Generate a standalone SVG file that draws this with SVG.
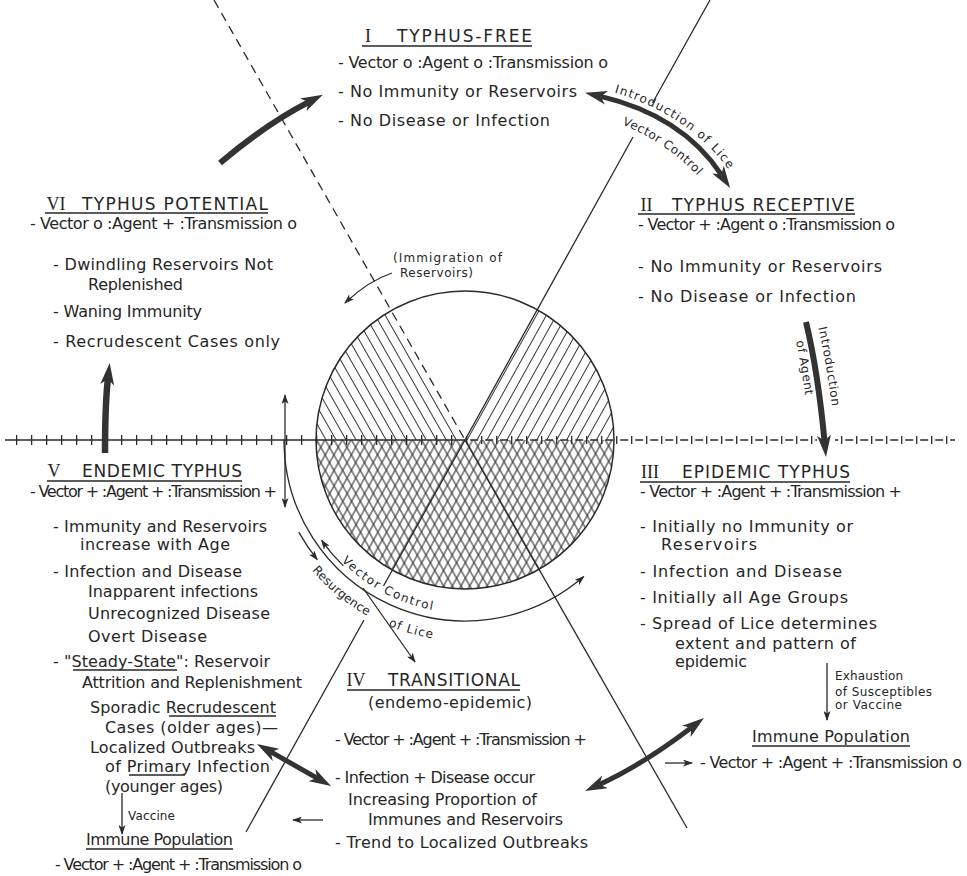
<svg xmlns="http://www.w3.org/2000/svg" width="967" height="876" viewBox="0 0 967 876">
<defs>
<style>
.t{font-family:"DejaVu Sans","Liberation Sans",sans-serif;font-size:16px;fill:#262626}
.h{font-family:"DejaVu Sans","Liberation Sans",sans-serif;font-size:17px;fill:#262626}
.n{font-family:"Liberation Serif","DejaVu Serif",serif;font-size:18px;fill:#262626}
.s{font-family:"DejaVu Sans","Liberation Sans",sans-serif;font-size:12px;fill:#262626}
.ul{stroke:#262626;stroke-width:1.4;fill:none}
.thin{stroke:#2a2a2a;stroke-width:1.3;fill:none}
.fat{stroke:#333;fill:none}
.hatch{stroke:#333;stroke-width:1}
.xh{stroke:#333;stroke-width:1.1}
.ax{stroke:#2a2a2a;fill:none}
</style>
<marker id="hb" viewBox="0 0 22 14" refX="6" refY="7" markerWidth="22" markerHeight="14" markerUnits="userSpaceOnUse" orient="auto-start-reverse"><path d="M0,0 L22,7 L0,14 L6,7 Z" fill="#333"/></marker>
<marker id="sh" viewBox="0 0 10 7" refX="9" refY="3.5" markerWidth="10" markerHeight="7" markerUnits="userSpaceOnUse" orient="auto-start-reverse"><path d="M0,0 L10,3.5 L0,7 L2.5,3.5 Z" fill="#2a2a2a"/></marker>
<pattern id="hl" patternUnits="userSpaceOnUse" width="8.7" height="10" patternTransform="rotate(-29.7)"><line x1="4.35" y1="-1" x2="4.35" y2="11" class="hatch"/></pattern>
<pattern id="hr" patternUnits="userSpaceOnUse" width="8.7" height="10" patternTransform="rotate(29.1)"><line x1="4.35" y1="-1" x2="4.35" y2="11" class="hatch"/></pattern>
<pattern id="cl" patternUnits="userSpaceOnUse" width="7.6" height="10" patternTransform="rotate(-29.7)"><line x1="3.8" y1="-1" x2="3.8" y2="11" class="xh"/></pattern>
<pattern id="cr" patternUnits="userSpaceOnUse" width="7.6" height="10" patternTransform="rotate(29.1)"><line x1="3.8" y1="-1" x2="3.8" y2="11" class="xh"/></pattern>
<path id="p_lice" d="M592,87 Q688,107 736,180"/>
<path id="p_vc1" d="M578,111 Q672,132 718,202"/>
<path id="p_vc2" d="M336.4,555.8 A173,173 0 0 0 459,612.9"/>
<path id="p_res" d="M308.8,566.5 A201,201 0 0 0 447.5,640.2"/>
<path id="p_intro" d="M817,322 Q829,372 837,450"/>
<path id="p_agent" d="M792,324 Q804,372 812,452"/>
</defs>
<rect width="967" height="876" fill="#fff"/>

<g id="hub">
<path d="M465,440 L316,440 A149,149 0 0 1 391,310.7 Z" fill="url(#hl)"/>
<path d="M465,440 L537.6,309.8 A149,149 0 0 1 614,440 Z" fill="url(#hr)"/>
<path d="M316,440 A149,149 0 0 0 614,440 Z" fill="url(#cl)"/>
<path d="M316,440 A149,149 0 0 0 614,440 Z" fill="url(#cr)"/>
<circle cx="465" cy="440" r="149" fill="none" stroke="#2a2a2a" stroke-width="1.5"/>
</g>

<g id="axes">
<line x1="214" y1="0" x2="465" y2="440" class="ax" stroke-width="1.3" stroke-dasharray="9 6"/>
<path d="M710,0 L652.5,103 M633,137 L465,440 L383.5,586 M364,620 L246,832" class="ax" stroke-width="1.3"/>
<path d="M465,440 L687,828" class="ax" stroke-width="1.3"/>
<path d="M5,440 L465,440" class="ax" stroke-width="1.4"/>
<path d="M5,440 L465,440" class="ax" stroke-width="10" stroke-dasharray="1.3 13.7" stroke-dashoffset="4"/>
<path d="M465,440 L817,440" class="ax" stroke-width="1.4" stroke-dasharray="8 7" stroke-dashoffset="9.8"/>
<path d="M465,440 L817,440" class="ax" stroke-width="8" stroke-dasharray="1.3 13.7" stroke-dashoffset="13.95"/>
<path d="M835,440 L955,440" class="ax" stroke-width="1.4" stroke-dasharray="8 7" stroke-dashoffset="4.8"/>
<path d="M835,440 L955,440" class="ax" stroke-width="8" stroke-dasharray="1.3 13.7" stroke-dashoffset="8.95"/>
</g>

<g id="node-I">
<text class="n" x="368" y="42" text-anchor="middle">I</text>
<text class="h" x="397" y="42" textLength="135" lengthAdjust="spacing">TYPHUS-FREE</text>
<line x1="362" y1="46" x2="532" y2="46" class="ul"/>
<text class="t" x="338" y="68" textLength="270" lengthAdjust="spacing">- Vector o :Agent o :Transmission o</text>
<text class="t" x="338" y="97" textLength="239" lengthAdjust="spacing">- No Immunity or Reservoirs</text>
<text class="t" x="338" y="126" textLength="212" lengthAdjust="spacing">- No Disease or Infection</text>
</g>

<g id="node-II">
<text class="n" x="646.5" y="211" text-anchor="middle">II</text>
<text class="h" x="672" y="211" textLength="183" lengthAdjust="spacing">TYPHUS RECEPTIVE</text>
<line x1="638" y1="214" x2="855" y2="214" class="ul"/>
<text class="t" x="638" y="230" textLength="257" lengthAdjust="spacing">- Vector + :Agent o :Transmission o</text>
<text class="t" x="638" y="272" textLength="244" lengthAdjust="spacing">- No Immunity or  Reservoirs</text>
<text class="t" x="638" y="302" textLength="218" lengthAdjust="spacing">- No Disease or Infection</text>
</g>

<g id="node-III">
<text class="n" x="650" y="478" text-anchor="middle">III</text>
<text class="h" x="682" y="478" textLength="168" lengthAdjust="spacing">EPIDEMIC  TYPHUS</text>
<line x1="640" y1="482" x2="850" y2="482" class="ul"/>
<text class="t" x="640" y="497" textLength="262" lengthAdjust="spacing">- Vector + :Agent + :Transmission +</text>
<text class="t" x="640" y="532" textLength="213" lengthAdjust="spacing">- Initially no Immunity or</text>
<text class="t" x="661" y="550" textLength="96" lengthAdjust="spacing">Reservoirs</text>
<text class="t" x="640" y="577" textLength="202" lengthAdjust="spacing">- Infection and Disease</text>
<text class="t" x="640" y="603" textLength="208" lengthAdjust="spacing">- Initially all Age Groups</text>
<text class="t" x="640" y="629" textLength="237" lengthAdjust="spacing">- Spread of Lice determines</text>
<text class="t" x="675" y="649" textLength="181" lengthAdjust="spacing">extent and pattern of</text>
<text class="t" x="675" y="667" textLength="72" lengthAdjust="spacing">epidemic</text>
</g>

<g id="node-III-immune">
<text class="t" x="752" y="742" textLength="158" lengthAdjust="spacing">Immune  Population</text>
<line x1="752" y1="746" x2="910" y2="746" class="ul"/>
<text class="t" x="700" y="768" textLength="262" lengthAdjust="spacing">- Vector + :Agent + :Transmission o</text>
</g>

<g id="node-IV">
<text class="n" x="356" y="686" text-anchor="middle">IV</text>
<text class="h" x="388" y="686" textLength="132" lengthAdjust="spacing">TRANSITIONAL</text>
<line x1="347" y1="690" x2="520" y2="690" class="ul"/>
<text class="t" x="368" y="708" textLength="164" lengthAdjust="spacing">(endemo-epidemic)</text>
<text class="t" x="335" y="745" textLength="252" lengthAdjust="spacing">- Vector + :Agent + :Transmission +</text>
<text class="t" x="335" y="783" textLength="200" lengthAdjust="spacing">- Infection + Disease occur</text>
<text class="t" x="348" y="805" textLength="189" lengthAdjust="spacing">Increasing Proportion of</text>
<text class="t" x="368" y="825" textLength="195" lengthAdjust="spacing">Immunes and Reservoirs</text>
<text class="t" x="335" y="848" textLength="253" lengthAdjust="spacing">- Trend to Localized Outbreaks</text>
</g>

<g id="node-V">
<text class="n" x="54" y="477" text-anchor="middle">V</text>
<text class="h" x="82" y="477" textLength="160" lengthAdjust="spacing">ENDEMIC  TYPHUS</text>
<line x1="47" y1="481" x2="242" y2="481" class="ul"/>
<text class="t" x="30" y="497" textLength="247" lengthAdjust="spacing">- Vector + :Agent + :Transmission +</text>
<text class="t" x="53" y="532" textLength="214" lengthAdjust="spacing">- Immunity and Reservoirs</text>
<text class="t" x="80" y="550" textLength="150" lengthAdjust="spacing">increase with Age</text>
<text class="t" x="53" y="577" textLength="189" lengthAdjust="spacing">- Infection and Disease</text>
<text class="t" x="88" y="597" textLength="170" lengthAdjust="spacing">Inapparent infections</text>
<text class="t" x="88" y="619" textLength="182" lengthAdjust="spacing">Unrecognized Disease</text>
<text class="t" x="88" y="642" textLength="119" lengthAdjust="spacing">Overt Disease</text>
<text class="t" x="53" y="667" textLength="217" lengthAdjust="spacing">- "Steady-State": Reservoir</text>
<line x1="73" y1="670" x2="177" y2="670" class="ul"/>
<text class="t" x="82" y="688" textLength="220" lengthAdjust="spacing">Attrition and Replenishment</text>
<text class="t" x="90" y="713" textLength="186" lengthAdjust="spacing">Sporadic Recrudescent</text>
<line x1="169" y1="716" x2="276" y2="716" class="ul"/>
<text class="t" x="105" y="733" textLength="173" lengthAdjust="spacing">Cases (older ages)—</text>
<text class="t" x="90" y="753" textLength="165" lengthAdjust="spacing">Localized Outbreaks</text>
<text class="t" x="105" y="772" textLength="165" lengthAdjust="spacing">of Primary Infection</text>
<line x1="129" y1="775" x2="185" y2="775" class="ul"/>
<text class="t" x="105" y="792" textLength="118" lengthAdjust="spacing">(younger ages)</text>
</g>

<g id="node-V-immune">
<text class="t" x="86" y="845" textLength="147" lengthAdjust="spacing">Immune Population</text>
<line x1="86" y1="849" x2="233" y2="849" class="ul"/>
<text class="t" x="55" y="870" textLength="247" lengthAdjust="spacing">- Vector + :Agent + :Transmission o</text>
</g>

<g id="node-VI">
<text class="n" x="56" y="210" text-anchor="middle">VI</text>
<text class="h" x="82" y="210" textLength="186" lengthAdjust="spacing">TYPHUS POTENTIAL</text>
<line x1="45" y1="213" x2="268" y2="213" class="ul"/>
<text class="t" x="30" y="229" textLength="267" lengthAdjust="spacing">- Vector o :Agent + :Transmission  o</text>
<text class="t" x="53" y="270" textLength="220" lengthAdjust="spacing">- Dwindling Reservoirs  Not</text>
<text class="t" x="88" y="290" textLength="95" lengthAdjust="spacing">Replenished</text>
<text class="t" x="53" y="317" textLength="149" lengthAdjust="spacing">- Waning Immunity</text>
<text class="t" x="53" y="347" textLength="227" lengthAdjust="spacing">- Recrudescent  Cases only</text>
</g>

<g id="connectors">
<path d="M220,163 Q266,124 308.6,102.1" class="fat" stroke-width="6" marker-end="url(#hb)"/>
<path d="M600.6,96.4 Q682,115.5 721.3,174.6" class="fat" stroke-width="5" marker-start="url(#hb)" marker-end="url(#hb)"/>
<path d="M806,322 Q818,372 824.5,441.1" class="fat" stroke-width="6" marker-end="url(#hb)"/>
<path d="M105,453 Q105,405 107.9,378.9" class="fat" stroke-width="6.5" marker-end="url(#hb)"/>
<path d="M270.9,751.9 L317.1,778.1" class="fat" stroke-width="5" marker-start="url(#hb)" marker-end="url(#hb)"/>
<path d="M599.6,784.4 Q642,765 691.2,727.7" class="fat" stroke-width="5" marker-start="url(#hb)" marker-end="url(#hb)"/>

<path d="M392,273 Q368,281 345,303" class="thin" marker-end="url(#sh)"/>
<path d="M285,395 L285,507" class="thin" marker-start="url(#sh)" marker-end="url(#sh)"/>
<path d="M284,440 A181,181 0 0 0 583.7,576.6" class="thin" marker-end="url(#sh)"/>
<path d="M343.4,565.9 A175,175 0 0 1 321.6,540.4" class="thin" marker-end="url(#sh)"/>
<path d="M298.8,532.1 A190,190 0 0 0 317.3,559.6" class="thin" marker-end="url(#sh)"/>
<path d="M363,588 L415,662" class="thin" marker-end="url(#sh)"/>
<path d="M827,663 L827,720" class="thin" marker-end="url(#sh)"/>
<path d="M665,763 L692,763" class="thin" marker-end="url(#sh)"/>
<path d="M323,820 L293,820" class="thin" marker-end="url(#sh)"/>
<path d="M122,793 L122,834" class="thin" marker-end="url(#sh)"/>

<text class="s" x="393" y="262" textLength="109" lengthAdjust="spacing">(Immigration of</text>
<text class="s" x="400" y="277" textLength="73" lengthAdjust="spacing">Reservoirs)</text>
<text class="s"><textPath href="#p_lice" startOffset="23" textLength="140" lengthAdjust="spacing">Introduction of Lice</textPath></text>
<text class="s"><textPath href="#p_vc1" startOffset="46" textLength="92" lengthAdjust="spacing">Vector Control</textPath></text>
<text class="s"><textPath href="#p_intro" startOffset="6" textLength="80" lengthAdjust="spacing">Introduction</textPath></text>
<text class="s"><textPath href="#p_agent" startOffset="18" textLength="55" lengthAdjust="spacing">of Agent</textPath></text>
<text class="s"><textPath href="#p_vc2" startOffset="7" textLength="105" lengthAdjust="spacing">Vector Control</textPath></text>
<text class="s"><textPath href="#p_res" startOffset="5" textLength="72" lengthAdjust="spacing">Resurgence</textPath></text>
<text class="s"><textPath href="#p_res" startOffset="100" textLength="46" lengthAdjust="spacing">of Lice</textPath></text>
<text class="s" x="835" y="680" textLength="68" lengthAdjust="spacing">Exhaustion</text>
<text class="s" x="835" y="696" textLength="97" lengthAdjust="spacing">of Susceptibles</text>
<text class="s" x="835" y="709" textLength="67" lengthAdjust="spacing">or Vaccine</text>
<text class="s" x="128" y="820" textLength="47" lengthAdjust="spacing">Vaccine</text>
</g>
</svg>
